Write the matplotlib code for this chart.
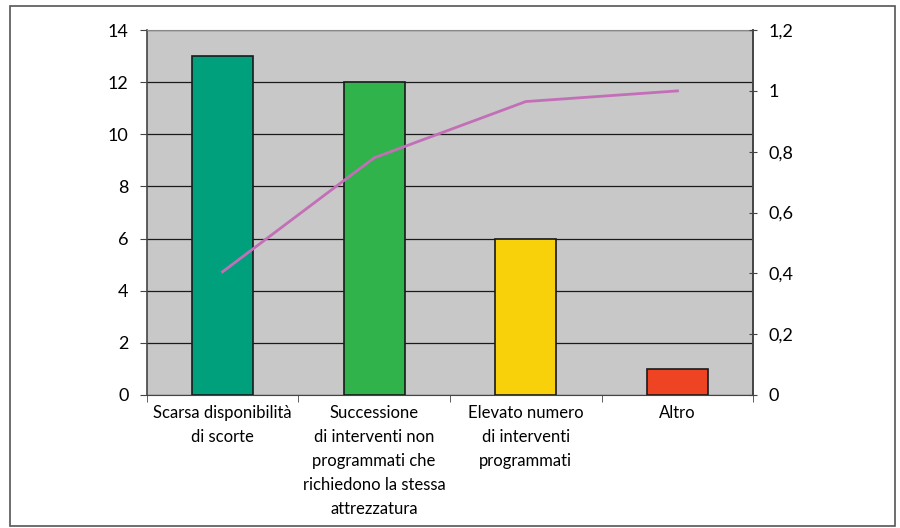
import matplotlib
matplotlib.use("Agg")
from matplotlib import pyplot as plt
from matplotlib.patches import Rectangle
import numpy as np

plt.rcParams['font.family'] = ['Lato', 'DejaVu Sans']

categories = ["Scarsa disponibilità\ndi scorte",
              "Successione\ndi interventi non\nprogrammati che\nrichiedono la stessa\nattrezzatura",
              "Elevato numero\ndi interventi\nprogrammati",
              "Altro"]
counts = [13, 12, 6, 1]
cumulative = [0.405, 0.78, 0.965, 1.0]
bar_colors = ["#00A07C", "#2FB34A", "#F9D10A", "#EE4423"]

left_ticks = [0, 2, 4, 6, 8, 10, 12, 14]
right_ticks = [0, 0.2, 0.4, 0.6, 0.8, 1, 1.2]
right_labels = ["0", "0,2", "0,4", "0,6", "0,8", "1", "1,2"]

fig = plt.figure(figsize=(9, 5.28), dpi=100)
fig.patches.append(Rectangle((0.011, 0.004), 0.983, 0.985, transform=fig.transFigure,
                             fill=False, edgecolor="#555555", linewidth=1.2))

ax = fig.add_axes([0.163, 0.252, 0.674, 0.691])
ax.set_facecolor("#C8C8C8")
x = np.arange(len(categories))
ax.bar(x, counts, width=0.4, color=bar_colors, edgecolor="#1a1a1a", linewidth=1.2, zorder=3)
ax.set_xlim(-0.5, len(categories) - 0.5)
ax.set_ylim(0, 14)
ax.set_yticks(left_ticks)
ax.yaxis.grid(True, color="#1a1a1a", linewidth=0.9, zorder=0)
ax.set_axisbelow(True)

ax.set_xticks(x)
ax.set_xticklabels(categories, fontsize=12, linespacing=1.62, va="top")
ax.tick_params(axis="x", length=0, pad=7)
ax.set_xticks(np.arange(-0.5, len(categories) + 0.5, 1), minor=True)
ax.tick_params(axis="x", which="minor", length=5, color="#444444", direction="out")
ax.tick_params(axis="y", length=5, color="#444444", labelsize=13, pad=8)

ax.spines["top"].set_color("#888888")
ax.spines["top"].set_linewidth(0.8)
ax.spines["left"].set_color("#444444")
ax.spines["right"].set_color("#444444")
ax.spines["bottom"].set_color("#444444")
ax.spines["left"].set_linewidth(1.2)
ax.spines["right"].set_linewidth(1.2)

ax2 = ax.twinx()
ax2.plot(x, cumulative, color="#C36FB8", linewidth=2, zorder=4)
ax2.set_ylim(0, 1.2)
ax2.set_yticks(right_ticks)
ax2.set_yticklabels(right_labels)
ax2.tick_params(axis="y", length=6, direction="inout", color="#444444", labelsize=13, pad=8)
for s in ["top", "left", "bottom"]:
    ax2.spines[s].set_visible(False)
ax2.spines["right"].set_color("#444444")
ax2.spines["right"].set_linewidth(1.2)

fig.savefig("out.png", dpi=100)
